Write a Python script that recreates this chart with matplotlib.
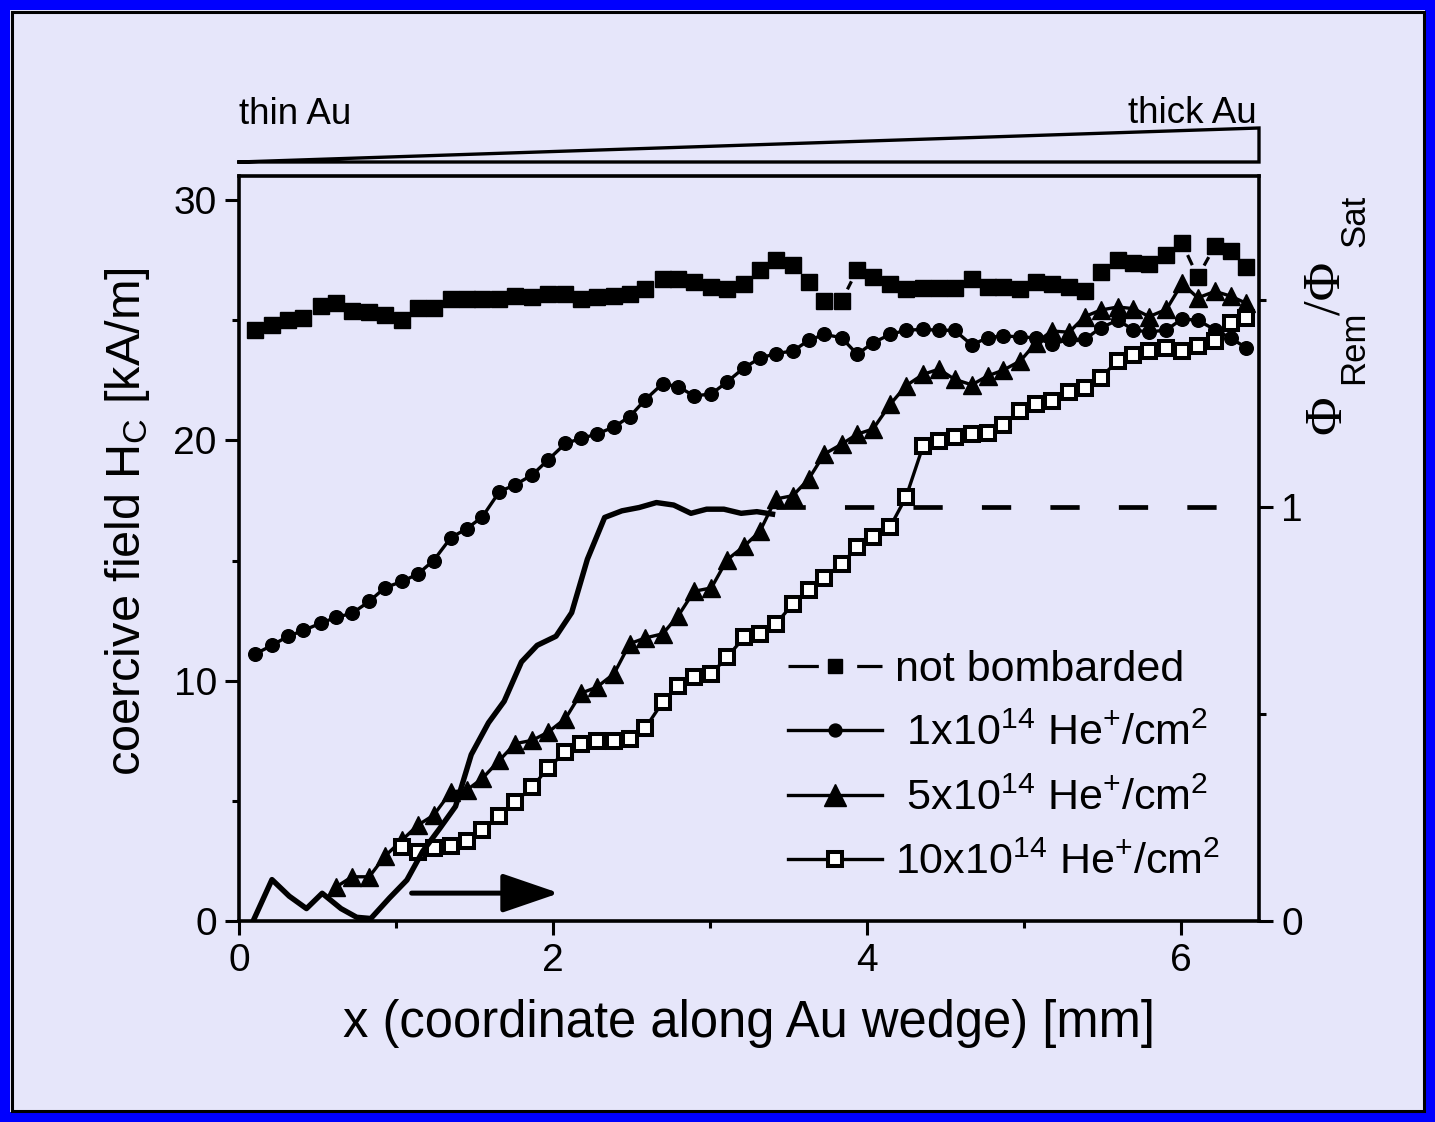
import numpy as np
import matplotlib
matplotlib.use('Agg')
import matplotlib.pyplot as plt
from matplotlib.lines import Line2D
from matplotlib.patches import Rectangle, FancyArrowPatch
from matplotlib.collections import LineCollection
from matplotlib import ticker

plt.rcParams['font.family'] = ['Liberation Sans', 'DejaVu Sans']
plt.rcParams['mathtext.fontset'] = 'custom'
plt.rcParams['mathtext.rm'] = 'Liberation Sans'
plt.rcParams['mathtext.it'] = 'Liberation Sans:italic'

# measurement positions along the wedge [mm]
x_pos = [0.10, 0.21, 0.31, 0.41, 0.52, 0.62, 0.72, 0.83, 0.93, 1.04,
         1.14, 1.24, 1.35, 1.45, 1.55, 1.66, 1.76, 1.87, 1.97, 2.08,
         2.18, 2.28, 2.39, 2.49, 2.59, 2.70, 2.80, 2.90, 3.01, 3.11,
         3.22, 3.32, 3.42, 3.53, 3.63, 3.73, 3.84, 3.94, 4.04, 4.15,
         4.25, 4.36, 4.46, 4.56, 4.67, 4.77, 4.87, 4.98, 5.08, 5.18,
         5.29, 5.39, 5.49, 5.60, 5.70, 5.80, 5.91, 6.01, 6.11, 6.22,
         6.32, 6.42]

# coercive field [kA/m]
hc_unbombarded = [24.6, 24.8, 25.0, 25.1, 25.6, 25.7, 25.4, 25.35, 25.2, 25.0,
                  25.5, 25.5, 25.9, 25.9, 25.9, 25.9, 26.0, 25.95, 26.1, 26.1,
                  25.9, 25.95, 26.0, 26.1, 26.3, 26.7, 26.7, 26.6, 26.4, 26.3,
                  26.5, 27.1, 27.5, 27.3, 26.6, 25.8, 25.8, 27.1, 26.8, 26.5,
                  26.3, 26.35, 26.35, 26.35, 26.7, 26.4, 26.4, 26.3, 26.6, 26.5,
                  26.4, 26.2, 27.0, 27.5, 27.4, 27.35, 27.7, 28.2, 26.8, 28.1,
                  27.9, 27.2]

hc_1e14 = [11.1, 11.47, 11.84, 12.09, 12.39, 12.64, 12.8, 13.3, 13.87, 14.13,
           14.44, 15.0, 15.95, 16.32, 16.81, 17.87, 18.15, 18.57, 19.19, 19.87,
           20.08, 20.26, 20.56, 20.99, 21.7, 22.36, 22.23, 21.85, 21.93, 22.43,
           23.03, 23.42, 23.61, 23.72, 24.16, 24.41, 24.27, 23.58, 24.06, 24.41,
           24.58, 24.62, 24.58, 24.58, 23.97, 24.27, 24.35, 24.3, 24.27, 24.0,
           24.2, 24.2, 24.68, 25.0, 24.6, 24.5, 24.6, 25.05, 25.0, 24.6,
           24.25, 23.85]

# starts at x = 0.62 mm
hc_5e14 = [1.42, 1.84, 1.84, 2.7, 3.37,
           3.99, 4.4, 5.37, 5.44, 5.93, 6.69, 7.38, 7.52, 7.86, 8.42,
           9.48, 9.73, 10.29, 11.54, 11.78, 11.95, 12.71, 13.72, 13.86, 15.03,
           15.6, 16.22, 17.56, 17.7, 18.39, 19.43, 19.84, 20.26, 20.47, 21.5,
           22.27, 22.75, 22.96, 22.54, 22.31, 22.68, 22.92, 23.31, 24.07, 24.55,
           24.5, 25.15, 25.42, 25.55, 25.48, 25.15, 25.45, 26.53, 25.93, 26.2,
           26.0, 25.7]

# starts at x = 1.04 mm
hc_10e14 = [3.09,
            2.88, 3.02, 3.12, 3.33, 3.78, 4.36, 4.96, 5.58, 6.38, 7.03,
            7.38, 7.49, 7.49, 7.59, 8.04, 9.11, 9.78, 10.15, 10.29, 10.98,
            11.81, 11.95, 12.36, 13.19, 13.78, 14.27, 14.87, 15.55, 15.97, 16.41,
            17.63, 19.78, 19.98, 20.12, 20.26, 20.29, 20.65, 21.23, 21.53, 21.64,
            22.02, 22.17, 22.61, 23.31, 23.56, 23.72, 23.86, 23.72, 23.93, 24.14,
            24.9, 25.1]

# remanence ratio Phi_Rem / Phi_Sat (right axis)
phi_x = [0.09, 0.21, 0.32, 0.43, 0.53, 0.65, 0.75, 0.84, 0.96, 1.07,
         1.17, 1.28, 1.38, 1.48, 1.59, 1.69, 1.80, 1.90, 2.02, 2.12,
         2.22, 2.33, 2.44, 2.55, 2.66, 2.77, 2.88, 2.98, 3.09, 3.20,
         3.30, 3.40]
phi_y = [0.0, 0.10, 0.06, 0.03, 0.067, 0.03, 0.009, 0.006, 0.056, 0.099,
         0.168, 0.224, 0.277, 0.402, 0.479, 0.531, 0.626, 0.666, 0.688, 0.745,
         0.874, 0.975, 0.991, 0.999, 1.011, 1.005, 0.985, 0.995, 0.995, 0.985,
         0.989, 0.983]
phi_sat_x = [3.42, 6.45]
phi_sat_y = [1.0, 1.0]

labels = ['not bombarded',
          r' 1x10$^{14}$ He$^{+}$/cm$^{2}$',
          r' 5x10$^{14}$ He$^{+}$/cm$^{2}$',
          r'10x10$^{14}$ He$^{+}$/cm$^{2}$']

bg = '#E6E6FA'
W, H = 1435, 1122


def gapped_segments(ax, xs, ys, gap_px):
    # Origin-like "gap to symbol": shorten every connecting segment at both ends
    pts = ax.transData.transform(np.column_stack([xs, ys]))
    inv = ax.transData.inverted()
    segs = []
    for p0, p1 in zip(pts[:-1], pts[1:]):
        d = p1 - p0
        n = np.hypot(*d)
        if n <= 2 * gap_px:
            continue
        u = d / n
        segs.append(inv.transform([p0 + u * gap_px, p1 - u * gap_px]))
    return segs


fig = plt.figure(figsize=(W / 100, H / 100), dpi=100, facecolor=bg)

# blue outer frame + thin black line
fig.patches.append(Rectangle((0, 0), 1, 1, transform=fig.transFigure, fill=False,
                             edgecolor='#0000FF', lw=14.4, zorder=10))
fig.patches.append(Rectangle((11.5 / W, 11.5 / H), 1 - 23 / W, 1 - 23 / H,
                             transform=fig.transFigure, fill=False,
                             edgecolor='black', lw=2.2, zorder=10))

ax = fig.add_axes([239 / W, 1 - 921 / H, 1020 / W, 745 / H])
ax.set_facecolor(bg)
ax2 = ax.twinx()

ax.set_xlim(0, 6.5)
ax.set_ylim(0, 31)
ax2.set_ylim(0, 1.8)

ax.plot(x_pos, hc_unbombarded, 'none', marker='s', ms=11.3,
        mfc='k', mec='k', zorder=3)
ax.add_collection(LineCollection(gapped_segments(ax, x_pos, hc_unbombarded, 13),
                                 colors='k', linewidths=2.3, zorder=3))
ax.plot(x_pos, hc_1e14, '-', color='k', lw=2.4, marker='o', ms=9.8,
        mfc='k', mec='k', zorder=3)
ax.plot(x_pos[5:], hc_5e14, '-', color='k', lw=2.4, marker='^', ms=13.3,
        mfc='k', mec='k', zorder=3)
ax.plot(x_pos[9:], hc_10e14, '-', color='k', lw=2.4, marker='s', ms=10.6,
        mfc='white', mec='k', mew=2.9, zorder=4)

ax2.plot(phi_x, phi_y, '-', color='k', lw=3.9, solid_joinstyle='round')
ax2.plot(phi_sat_x, phi_sat_y, color='k', lw=3.4, ls=(0, (6.2, 8.3)),
         dash_capstyle='butt')

ax.add_patch(FancyArrowPatch((1.10, 1.16), (2.04, 1.16),
                             arrowstyle='-|>,head_length=35,head_width=12',
                             mutation_scale=1, lw=3.6, color='black',
                             shrinkA=0, shrinkB=0, zorder=5))

ax.xaxis.set_major_locator(ticker.FixedLocator([0, 2, 4, 6]))
ax.xaxis.set_minor_locator(ticker.FixedLocator([1, 3, 5]))
ax.yaxis.set_major_locator(ticker.FixedLocator([0, 10, 20, 30]))
ax.yaxis.set_minor_locator(ticker.FixedLocator([5, 15, 25]))
ax2.yaxis.set_major_locator(ticker.FixedLocator([0, 1]))
ax2.yaxis.set_minor_locator(ticker.FixedLocator([0.5, 1.5]))

for a in (ax, ax2):
    for s in a.spines.values():
        s.set_linewidth(2.6)
    a.tick_params(which='major', direction='out', length=10, width=2.2,
                  labelsize=28, pad=6)
    a.tick_params(which='minor', direction='out', length=5, width=2.2)
ax.spines['right'].set_visible(False)
for s in ('left', 'top', 'bottom'):
    ax2.spines[s].set_visible(False)

# legend, Origin style (gap between line and symbol for the first entry)
handles = [
    Line2D([], [], color='k', lw=2.3, ls=(0, (9.5, 12, 12)), marker='s', ms=10.5),
    Line2D([], [], color='k', lw=2.4, marker='o', ms=9.3),
    Line2D([], [], color='k', lw=2.4, marker='^', ms=16),
    Line2D([], [], color='k', lw=2.4, marker='s', ms=10.6, mfc='white', mew=2.9),
]
ax.legend(handles, labels, loc='upper left', bbox_to_anchor=(0.538, 0.364),
          frameon=False, fontsize=31, handlelength=2.2, handletextpad=0.3,
          labelspacing=0.56, borderpad=0, borderaxespad=0, numpoints=1)

# axis labels
fig.text(749 / W, 1 - 1037 / H, 'x (coordinate along Au wedge) [mm]',
         fontsize=36.5, ha='center', va='baseline')
fig.text(127 / W, 1 - 522 / H, r'coercive field H$_{\rm C}$ [kA/m]',
         fontsize=35, rotation=90, ha='center', va='center')

# right axis label Phi_Rem / Phi_Sat, pieces placed like the Origin label
rkw = dict(rotation=90, rotation_mode='anchor', ha='center', va='baseline')
fig.text(1340 / W, 1 - 415 / H, '\u03a6', family='Liberation Serif', fontsize=38, **rkw)
fig.text(1363 / W, 1 - 347 / H, 'Rem', fontsize=25, **rkw)
fig.text(1340 / W, 1 - 288 / H, '/\u03a6', family='Liberation Serif', fontsize=38, **rkw)
fig.text(1364 / W, 1 - 221 / H, 'Sat', fontsize=25, **rkw)

# Au wedge sketch above the plot
wedge = fig.add_axes([239 / W, 1 - 162 / H, 1020 / W, 34 / H])
wedge.set_xlim(0, 6.5)
wedge.set_ylim(0, 1)
wedge.axis('off')
wedge.plot([0, 6.5, 6.5, 0], [0, 1, 0, 0], color='k', lw=2.4, clip_on=False,
           solid_joinstyle='miter')
fig.text(239 / W, 1 - 124 / H, 'thin Au', fontsize=26.5, ha='left', va='baseline')
fig.text(1257 / W, 1 - 123 / H, 'thick Au', fontsize=26.5, ha='right', va='baseline')

fig.savefig('out.png', dpi=100, facecolor=bg)
